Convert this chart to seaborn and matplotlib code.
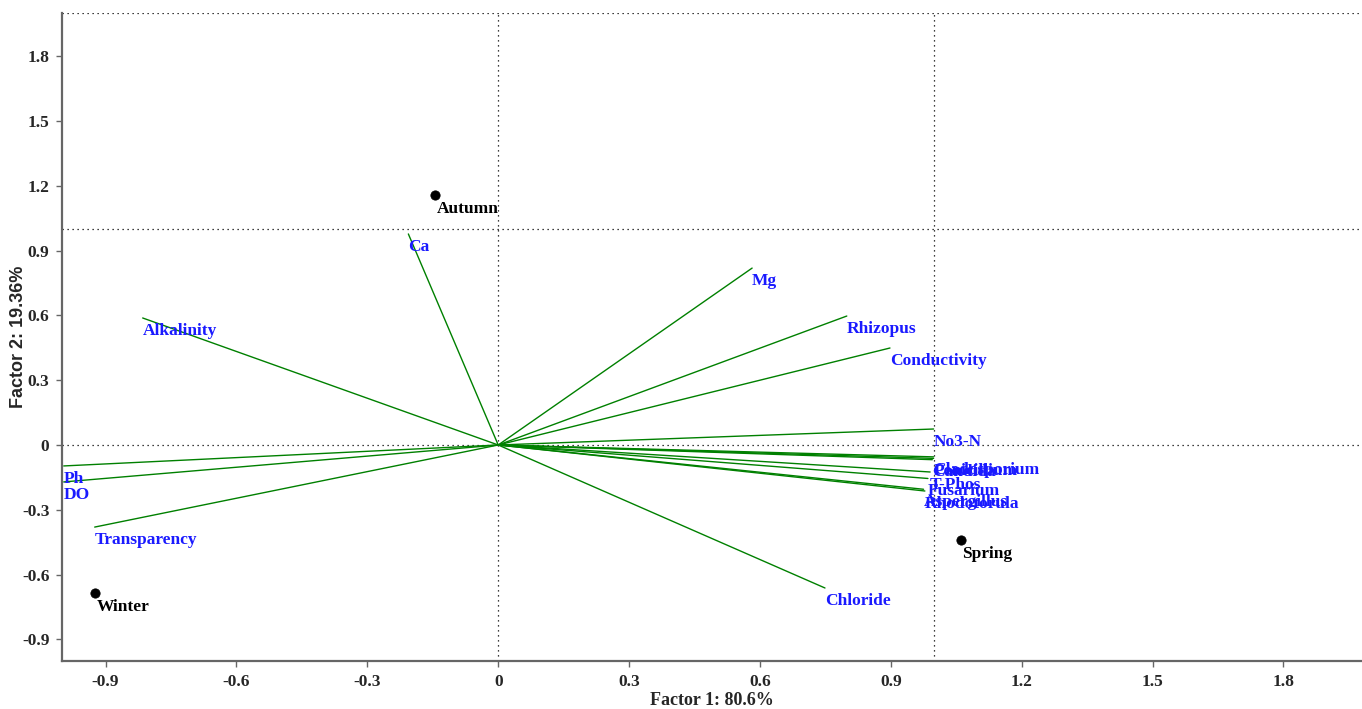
"""
PCA biplot of water quality variables and fungi by season
"""

import matplotlib
matplotlib.use("Agg")
import matplotlib.pyplot as plt
import seaborn as sns
import pandas as pd

# variable loadings (Factor 1, Factor 2)
var_names = ["Ca", "Alkalinity", "Mg", "Rhizopus", "Conductivity", "No3-N",
             "Ph", "DO", "Transparency", "Chloride",
             "Cladosporium", "Penicillium", "Candida", "T-Phos", "Fusarium",
             "Aspergillus", "Rhodotorula"]
var_f1 = [-0.206, -0.815, 0.582, 0.799, 0.898, 0.998,
          -0.996, -0.996, -0.925, 0.749,
          0.998, 0.998, 0.995, 0.990, 0.985, 0.975, 0.978]
var_f2 = [0.977, 0.588, 0.819, 0.597, 0.449, 0.074,
          -0.097, -0.171, -0.380, -0.662,
          -0.055, -0.062, -0.068, -0.125, -0.155, -0.205, -0.213]

# season scores
seasons = ["Autumn", "Winter", "Spring"]
season_f1 = [-0.144, -0.925, 1.06]
season_f2 = [1.157, -0.685, -0.44]

ticks = [-0.9, -0.6, -0.3, 0, 0.3, 0.6, 0.9, 1.2, 1.5, 1.8]
tick_labels = ["-0.9", "-0.6", "-0.3", "0", "0.3", "0.6", "0.9", "1.2", "1.5", "1.8"]

sns.set_style("white")
plt.rcParams["font.family"] = ["Liberation Serif", "DejaVu Serif"]

fig = plt.figure(figsize=(13.62, 7.09), dpi=100)
ax = fig.add_axes([0.0455, 0.0677, 0.9545, 0.9140])

# reference lines
for xv in [0, 1]:
    ax.axvline(xv, color="black", lw=0.9, ls=(0, (1, 3)), zorder=1)
for yv in [0, 1, 2]:
    ax.axhline(yv, color="black", lw=0.9, ls=(0, (1, 3)), zorder=1)

# vectors from origin
rows = []
for n, x, y in zip(var_names, var_f1, var_f2):
    rows.append({"var": n, "f1": 0.0, "f2": 0.0})
    rows.append({"var": n, "f1": x, "f2": y})
vec = pd.DataFrame(rows)
sns.lineplot(data=vec, x="f1", y="f2", units="var", estimator=None, sort=False,
             color="green", lw=1.0, ax=ax, zorder=2)

for n, x, y in zip(var_names, var_f1, var_f2):
    ax.text(x, y - 0.022, n, color="#1a1aff", fontsize=12.5, fontweight="bold",
            ha="left", va="top", zorder=3)

pts = pd.DataFrame({"season": seasons, "f1": season_f1, "f2": season_f2})
sns.scatterplot(data=pts, x="f1", y="f2", color="black", s=45, edgecolor="black",
                ax=ax, zorder=4)
for n, x, y in zip(seasons, season_f1, season_f2):
    ax.text(x + 0.004, y - 0.028, n, color="black", fontsize=12.5, fontweight="bold",
            ha="left", va="top", zorder=4)

ax.set_xlim(-1.0, 1.98)
ax.set_ylim(-1.0, 2.0)
ax.set_xticks(ticks)
ax.set_xticklabels(tick_labels)
ax.set_yticks(ticks)
ax.set_yticklabels(tick_labels)
for lab in ax.get_xticklabels() + ax.get_yticklabels():
    lab.set_fontweight("bold")
    lab.set_fontsize(12.5)
ax.tick_params(axis="both", direction="out", length=4, width=1, color="#666666",
               bottom=True, left=True, pad=5)

for side in ["top", "right"]:
    ax.spines[side].set_visible(False)
for side in ["left", "bottom"]:
    ax.spines[side].set_color("#666666")
    ax.spines[side].set_linewidth(1.6)

ax.set_xlabel("Factor 1: 80.6%", fontsize=13, fontweight="bold", labelpad=2)
ax.set_ylabel("Factor 2: 19.36%", fontsize=13, fontweight="bold",
              family=["Liberation Sans", "DejaVu Sans"])
ax.yaxis.set_label_coords(-0.027, 0.5)

fig.savefig("out.png", dpi=100)
plt.close(fig)
